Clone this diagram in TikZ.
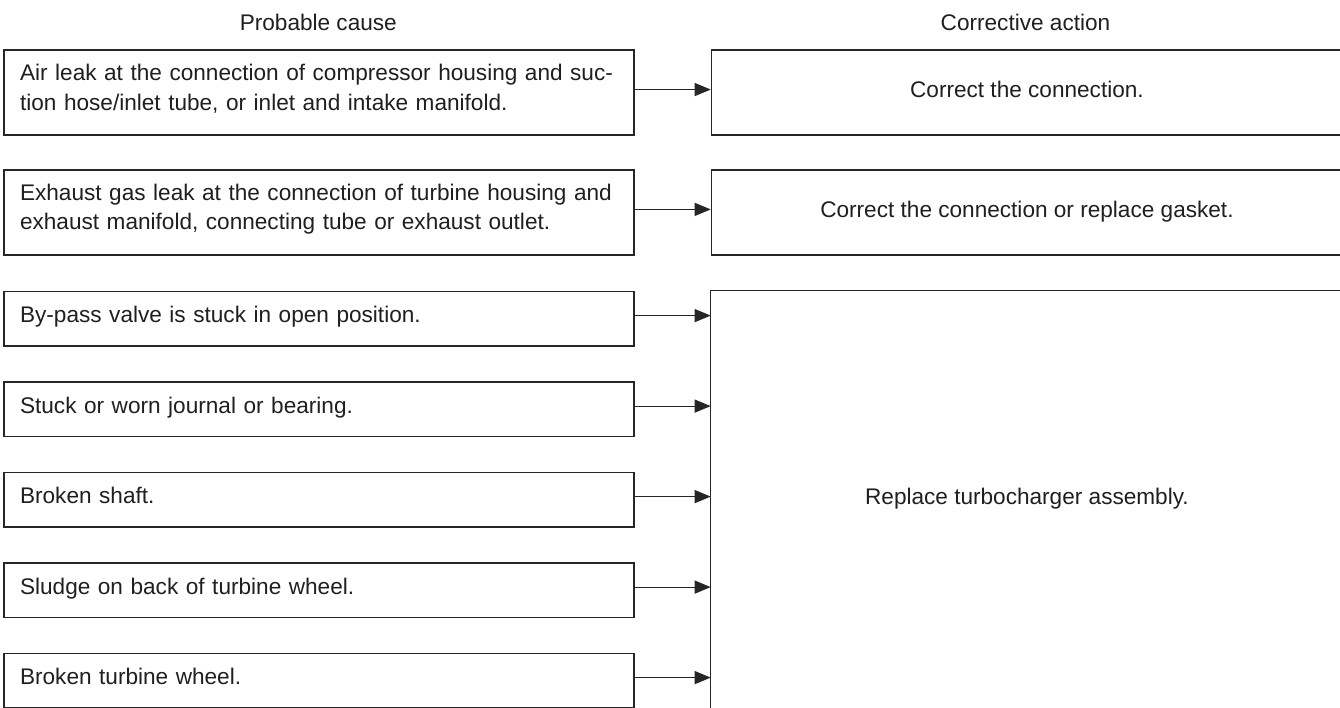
\documentclass[tikz,border=0pt]{standalone}
\usepackage{fontspec}
\setmainfont{Liberation Sans}
\usetikzlibrary{arrows.meta}
\begin{document}
\begin{tikzpicture}[x=1pt,y=-1pt,
  every node/.style={font=\fontsize{22.6}{29.3}\selectfont, text=black!88},
  boxline/.style={draw=black!85, line width=1.5pt},
  cause/.style={boxline, anchor=north west, minimum width=630pt, text width=598pt,
    inner xsep=16pt, inner ysep=0pt, align=left, minimum height=54.3pt,
    text height=16.2pt, text depth=7.6pt},
  cause2/.style={cause, minimum height=85pt, text depth=39.8pt},
  action/.style={boxline, anchor=north west, minimum width=631pt, inner xsep=0pt,
    inner ysep=0pt, minimum height=85pt, text height=16.2pt, text depth=6.4pt},
  head/.style={anchor=base},
  arr/.style={draw=black!85, line width=1.2pt, -{Triangle[length=16pt,width=13pt]}}
]
\useasboundingbox (0,0) rectangle (1340,707);
\clip (0,0) rectangle (1340,707);

\node[head] (h1) at (318.3,30) {Probable cause};
\node[head] (h2) at (1025.5,30) {Corrective action};

\node[cause2] (c1) at (3.3,49.3) {Air leak at the connection of compressor housing and suc-\\tion hose/inlet tube, or inlet and intake manifold.};
\node[cause2, minimum height=85.3pt] (c2) at (3.3,169) {Exhaust gas leak at the connection of turbine housing and\\exhaust manifold, connecting tube or exhaust outlet.};
\node[cause] (c3) at (3.3,290.7) {By-pass valve is stuck in open position.};
\node[cause] (c4) at (3.3,381.2) {Stuck or worn journal or bearing.};
\node[cause] (c5) at (3.3,471.7) {Broken shaft.};
\node[cause] (c6) at (3.3,562.2) {Sludge on back of turbine wheel.};
\node[cause] (c7) at (3.3,652.7) {Broken turbine wheel.};

\node[action] (r1) at (710.7,49.3) {Correct the connection.};
\node[action, minimum height=85.3pt] (r2) at (710.7,169) {Correct the connection or replace gasket.};
\node[action, draw=none, minimum height=416pt] (r3) at (710.7,290.7) {Replace turbocharger assembly.};
\draw[boxline] ([yshift=-10pt]r3.south west) -- (r3.north west) -- (r3.north east);

\draw[arr] ([yshift=3pt]c1.east) -- ([yshift=3pt]c1.east -| r1.west);
\draw[arr] ([yshift=3pt]c2.east) -- ([yshift=3pt]c2.east -| r2.west);
\foreach \c in {c3,c4,c5,c6,c7}{
  \draw[arr] ([yshift=3pt]\c.east) -- ([yshift=3pt]\c.east -| r3.west);
}
\end{tikzpicture}
\end{document}
